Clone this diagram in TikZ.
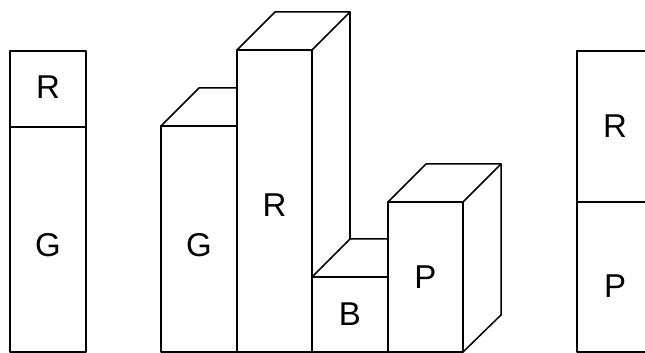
\documentclass[tikz,border=0pt]{standalone}
\usepackage{fontspec}
\setmainfont{Liberation Sans}
\begin{document}
\begin{tikzpicture}[x=1pt, y=1pt, line width=1.5pt, line join=round, line cap=round,
		lbl/.style={font=\fontsize{33}{38}\selectfont, inner sep=0pt}]
			\useasboundingbox (0,0) rectangle (645,353) ;
			\clip (0,0) rectangle (645,353) ;
			% left stack
			\draw (10,1) rectangle (86,302) ;
			\draw (10,226)--(86,226) ;
			\node[lbl] (lR) at (48,266) {R} ;
			\node[lbl] (lG) at (48,108) {G} ;
			% blocks
			\draw (161,1) rectangle (237,227) ;
			\draw (161,227)--(199,265)--(237,265) ;
			\draw (237,1) rectangle (312,303) ;
			\draw (237,303)--(275,341)--(350,341)--(312,303) ;
			\draw (350,341)--(350,114) ;
			\draw (312,1) rectangle (388,76) ;
			\draw (312,76)--(350,114)--(388,114) ;
			\draw (388,1) rectangle (463,151) ;
			\draw (388,151)--(426,189)--(501,189)--(463,151) ;
			\draw (501,189)--(501,38)--(463,1) ;
			\node[lbl] (mG) at (199,108) {G} ;
			\node[lbl] (mR) at (274.5,148) {R} ;
			\node[lbl] (mB) at (350,39) {B} ;
			\node[lbl] (mP) at (425.5,76) {P} ;
			% right stack
			\draw (577,1) rectangle (653,302) ;
			\draw (577,151)--(653,151) ;
			\node[lbl] (rR) at (615,227) {R} ;
			\node[lbl] (rP) at (615,67) {P} ;
		\end{tikzpicture}
\end{document}
